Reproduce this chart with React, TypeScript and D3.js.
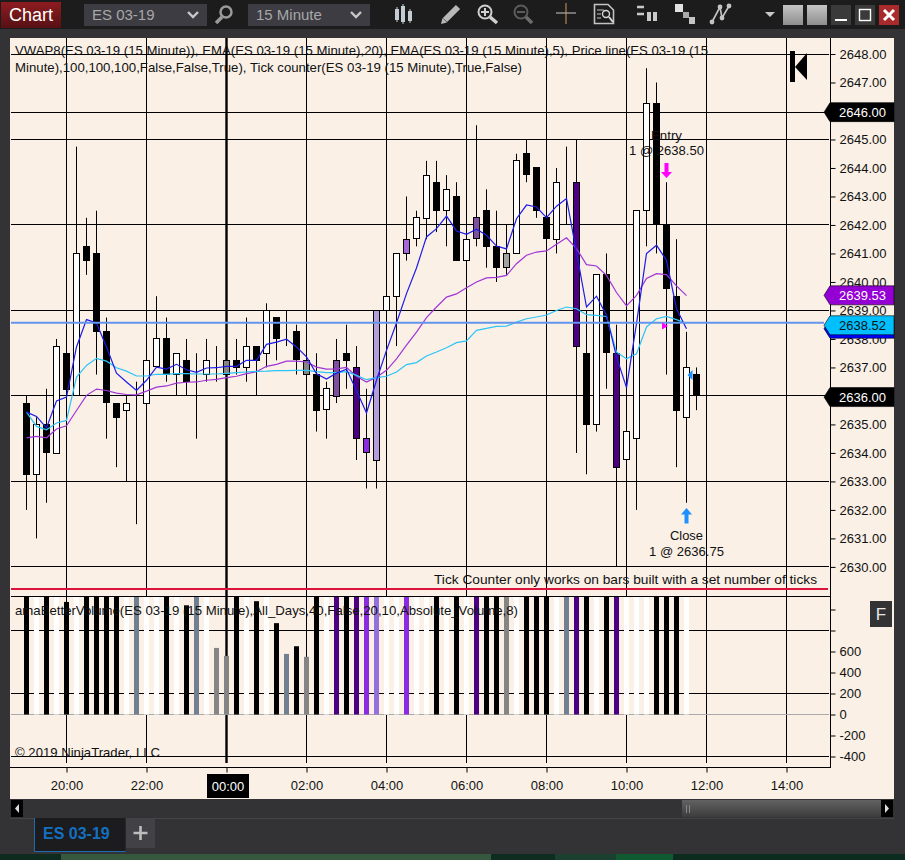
import { useEffect, useRef } from 'react';
import * as d3 from 'd3';

const opens = [2635.75, 2633.25, 2635, 2634, 2637.5, 2636, 2641.25, 2641, 2638.25, 2635.75, 2635.5, 2635.75, 2635.75, 2637, 2638, 2636.75, 2637.25, 2636.75, 2636.75, 2636.75, 2636.75, 2637.25, 2637, 2637.75, 2637.5, 2638.75, 2638.25, 2638.25, 2636.75, 2636.75, 2635.5, 2636, 2637.5, 2637, 2634.5, 2633.75, 2639, 2639.5, 2641, 2641.5, 2642.25, 2643.5, 2642.5, 2643, 2640.75, 2641.5, 2642.5, 2641.25, 2640.5, 2641, 2644.5, 2644, 2642.25, 2641.5, 2643.5, 2643.5, 2637.5, 2635, 2640.25, 2637.5, 2633.75, 2634.5, 2642.5, 2646.25, 2642, 2639.5, 2635.25, 2636.75];
const highs = [2636, 2635.25, 2636.25, 2638, 2637.5, 2644.75, 2642.25, 2642.5, 2638.75, 2635.75, 2636, 2636.5, 2637.25, 2639.5, 2638.75, 2637.5, 2638, 2637.5, 2638, 2637.75, 2637.25, 2638, 2638.75, 2637.75, 2639.25, 2638.75, 2639, 2638.5, 2637.25, 2637.5, 2636.5, 2638, 2638.5, 2637.75, 2636.25, 2639, 2639.5, 2641, 2643, 2642.5, 2644.25, 2644.25, 2643.75, 2643.5, 2641.5, 2645.5, 2643.25, 2642.5, 2642, 2644.5, 2645, 2644, 2642.25, 2644, 2644.75, 2645, 2639, 2640.25, 2641, 2638.5, 2634.75, 2642.5, 2647.5, 2647, 2643.5, 2641.5, 2638.25, 2637];
const lows = [2632, 2631, 2632.25, 2634, 2636.25, 2636, 2640.25, 2636.75, 2634.5, 2633.5, 2633, 2631.5, 2635.75, 2637, 2636.5, 2636, 2636, 2634.5, 2636.5, 2636.5, 2636.75, 2636.75, 2636.5, 2636, 2637, 2637.25, 2637.75, 2636.75, 2636.75, 2634.75, 2634.5, 2635.75, 2636.25, 2633.75, 2632.75, 2632.75, 2639, 2637.75, 2640.75, 2641.25, 2641.5, 2641.75, 2641.25, 2640.75, 2640.75, 2641.25, 2640.5, 2640, 2640.25, 2641, 2643.5, 2642.25, 2641.5, 2641, 2642, 2634, 2633.25, 2634.75, 2636.25, 2630, 2633.75, 2632, 2641.25, 2641, 2636.75, 2633.5, 2632.25, 2635.5];
const closes = [2633.25, 2635, 2634, 2637.75, 2636.25, 2641, 2640.75, 2638.25, 2635.75, 2635.25, 2635.75, 2635.75, 2637.25, 2638, 2636.75, 2637.5, 2636.5, 2636.75, 2637.25, 2636.75, 2637.25, 2637, 2637.75, 2637.25, 2639, 2638, 2638.25, 2637.25, 2637.25, 2635.5, 2636.25, 2637.25, 2637.25, 2634.5, 2634, 2639, 2639.5, 2641, 2641.5, 2642.25, 2643.75, 2642.5, 2643.25, 2640.75, 2641.5, 2642.25, 2641.25, 2640.5, 2641, 2644.25, 2643.75, 2642.5, 2641.5, 2643.5, 2643.5, 2637.75, 2635, 2640.25, 2637.5, 2633.5, 2634.75, 2642.5, 2646.25, 2642, 2639.75, 2635.5, 2637, 2636];

// candles that the volume indicator repaints
const shadedCandles: [number, string][] = [
  [20, 'grey'], [28, 'grey'], [31, 'plum'], [33, 'indigo'], [34, 'violet'], [35, 'lilac'],
  [38, 'orchid'], [45, 'plum'], [48, 'silver'], [55, 'indigo'], [59, 'indigo'],
];

const ema5 = [2635.43, 2635.28, 2634.88, 2635.82, 2635.96, 2637.72, 2638.68, 2638.56, 2637.72, 2636.8, 2636.49, 2636.19, 2636.55, 2637.01, 2636.94, 2637.11, 2636.92, 2636.83, 2636.98, 2636.99, 2637.04, 2637.04, 2637.25, 2637.25, 2637.81, 2637.89, 2637.99, 2637.72, 2637.37, 2636.78, 2636.59, 2636.8, 2636.94, 2636.19, 2635.4, 2636.55, 2637.6, 2638.56, 2639.59, 2640.49, 2641.58, 2641.87, 2642.31, 2641.79, 2641.67, 2641.85, 2641.64, 2641.26, 2641.16, 2642.22, 2642.7, 2642.63, 2642.26, 2642.66, 2642.93, 2641.05, 2639.12, 2639.5, 2638.83, 2637.37, 2636.29, 2638.54, 2641, 2641.29, 2640.76, 2639.06, 2638.36];
const ema20 = [2635.43, 2634.93, 2634.81, 2635.05, 2635.14, 2636.66, 2637.07, 2637.32, 2637.22, 2636.99, 2636.87, 2636.7, 2636.7, 2636.76, 2636.76, 2636.78, 2636.78, 2636.77, 2636.77, 2636.77, 2636.79, 2636.82, 2636.84, 2636.86, 2636.87, 2636.89, 2636.89, 2636.9, 2636.9, 2636.85, 2636.82, 2636.82, 2636.85, 2636.72, 2636.57, 2636.64, 2636.69, 2636.84, 2637.1, 2637.17, 2637.4, 2637.54, 2637.69, 2637.87, 2637.93, 2638.3, 2638.37, 2638.44, 2638.45, 2638.59, 2638.71, 2638.77, 2638.84, 2639, 2639.12, 2639.06, 2638.85, 2638.83, 2638.79, 2637.54, 2637.3, 2637.48, 2638.42, 2638.71, 2638.79, 2638.68, 2638.54];
const vwap = [2634.53, 2634.58, 2634.53, 2634.84, 2634.95, 2635.49, 2636.02, 2636.24, 2636.19, 2636.1, 2636.05, 2636.04, 2636.17, 2636.31, 2636.35, 2636.45, 2636.48, 2636.49, 2636.55, 2636.58, 2636.64, 2636.69, 2636.78, 2636.85, 2637.04, 2637.11, 2637.22, 2637.22, 2637.19, 2637.01, 2636.94, 2636.95, 2637, 2636.69, 2636.49, 2636.66, 2636.9, 2637.3, 2637.78, 2638.24, 2638.75, 2639.12, 2639.47, 2639.58, 2639.8, 2640, 2640.14, 2640.16, 2640.23, 2640.64, 2640.94, 2641.05, 2641.09, 2641.32, 2641.55, 2641.17, 2640.61, 2640.56, 2640.23, 2639.63, 2639.16, 2639.53, 2640.12, 2640.29, 2640.26, 2639.86, 2639.52];

// bars that run off the top of the panel are estimates
const volumes = [1450, 1500, 1600, 1300, 1072, 1250, 1400, 1700, 1350, 1500, 1200, 1300, 1500, 1200, 1600, 1300, 1040, 1250, 1200, 634, 558, 1500, 1300, 1079, 1200, 870, 577, 650, 549, 1300, 1200, 1500, 1400, 1600, 1800, 1350, 1300, 1500, 1700, 1250, 1200, 1400, 1300, 1600, 1450, 1300, 1500, 1350, 1200, 1900, 1700, 1400, 1300, 1500, 1250, 2200, 1800, 1500, 1400, 2100, 1500, 1800, 1900, 1700, 1600, 1500, 1300, 0];
const volumeKinds = ['black', 'white', 'black', 'white', 'black', 'white', 'black', 'black', 'black', 'black', 'white', 'slate', 'white', 'white', 'black', 'white', 'black', 'slate', 'white', 'grey', 'grey', 'black', 'white', 'black', 'white', 'black', 'slate', 'black', 'grey', 'black', 'white', 'indigo', 'black', 'indigo', 'violet', 'lilac', 'white', 'white', 'violet', 'white', 'white', 'black', 'white', 'black', 'white', 'indigo', 'black', 'black', 'grey', 'white', 'black', 'black', 'black', 'white', 'slate', 'indigo', 'black', 'white', 'black', 'indigo', 'white', 'white', 'white', 'black', 'black', 'black', 'white', 'white'];

const palette: Record<string, string> = {
  black: '#000000', white: '#ffffff', slate: '#708090', grey: '#858585', silver: '#a3a3a3',
  indigo: '#4b0082', violet: '#8a2be2', lilac: '#9370db', plum: '#7d4f9e', orchid: '#a566da',
};
const candleOverride: Record<string, string> = { lilac: '#b39ddb' };

const priceTicks = [2648, 2647, 2646, 2645, 2644, 2643, 2642, 2641, 2640, 2639, 2638, 2637, 2636, 2635, 2634, 2633, 2632, 2631, 2630];
const priceGrid = [2648, 2645, 2642, 2639, 2636, 2633, 2630];
const currentLevel = 2645.96;
const priceLine = 2638.57;
const volumeTicks = [1000, 800, 600, 400, 200, 0, -200, -400];
const volumeGrid = [800, 200, -400];
const timeTicks = [4, 12, 20, 28, 36, 44, 52, 60, 68, 76];
const timeLabels = ['20:00', '22:00', '00:00', '02:00', '04:00', '06:00', '08:00', '10:00', '12:00', '14:00'];

const FONT = '"Liberation Sans", Arial, sans-serif';
const INK = '#111';

export default function App() {
  const ref = useRef<SVGSVGElement>(null);

  useEffect(() => {
    if (!ref.current) return;
    const svg = d3.select(ref.current);
    svg.selectAll('*').remove();
    svg.attr('font-family', FONT);

    const x = d3.scaleLinear().domain([0, 67]).range([26.5, 696.5]);
    const y = d3.scaleLinear().domain([2630, 2648]).range([566.9, 54]);
    const v = d3.scaleLinear().domain([0, 800]).range([714.5, 630.5]);
    const crisp = (n: number) => Math.floor(n) + 0.5;

    const defs = svg.append('defs');
    defs.append('clipPath').attr('id', 'volClip').append('rect').attr('x', 10).attr('y', 597).attr('width', 820).attr('height', 118);
    const chartGrad = defs.append('linearGradient').attr('id', 'chartGrad').attr('x1', 0).attr('y1', 0).attr('x2', 0).attr('y2', 1);
    chartGrad.append('stop').attr('offset', '0%').attr('stop-color', '#8e1c20');
    chartGrad.append('stop').attr('offset', '100%').attr('stop-color', '#561014');
    const thumbGrad = defs.append('linearGradient').attr('id', 'thumbGrad').attr('x1', 0).attr('y1', 0).attr('x2', 0).attr('y2', 1);
    thumbGrad.append('stop').attr('offset', '0%').attr('stop-color', '#626262');
    thumbGrad.append('stop').attr('offset', '100%').attr('stop-color', '#3c3c3c');
    const greyGrad = defs.append('linearGradient').attr('id', 'greyGrad').attr('x1', 0).attr('y1', 0).attr('x2', 0).attr('y2', 1);
    greyGrad.append('stop').attr('offset', '0%').attr('stop-color', '#c4c4c4');
    greyGrad.append('stop').attr('offset', '100%').attr('stop-color', '#8e8e8e');

    // window chrome
    svg.append('rect').attr('width', 905).attr('height', 860).attr('fill', '#333335');
    svg.append('rect').attr('width', 905).attr('height', 29).attr('fill', '#1c1c1c');
    svg.append('rect').attr('x', 10).attr('y', 38).attr('width', 884).attr('height', 761).attr('fill', '#faf0e6');

    drawToolbar(svg);

    // grid sits under everything
    const grid = svg.append('g').attr('stroke', '#000').attr('stroke-width', 1).attr('fill', 'none');
    grid.selectAll('line.v').data(timeTicks).join('line').attr('class', 'v')
      .attr('x1', (d) => crisp(x(d))).attr('x2', (d) => crisp(x(d))).attr('y1', 38).attr('y2', 763)
      .attr('stroke-width', (d) => (d === 20 ? 2.4 : 1));
    grid.selectAll('line.h').data([...priceGrid, currentLevel]).join('line').attr('class', 'h')
      .attr('x1', 11).attr('x2', 829).attr('y1', (d) => crisp(y(d))).attr('y2', (d) => crisp(y(d)));
    grid.selectAll('line.vh').data(volumeGrid).join('line').attr('class', 'vh')
      .attr('x1', 11).attr('x2', 829).attr('y1', (d) => crisp(v(d))).attr('y2', (d) => crisp(v(d)));
    grid.append('line').attr('x1', 11).attr('x2', 830).attr('y1', 596.5).attr('y2', 596.5);
    svg.append('line').attr('x1', 11).attr('x2', 828).attr('y1', 589).attr('y2', 589).attr('stroke', '#dc143c').attr('stroke-width', 2);
    svg.append('line').attr('x1', 11).attr('x2', 829).attr('y1', crisp(v(0))).attr('y2', crisp(v(0))).attr('stroke', '#a9a9a9');

    // candles
    const index = d3.range(opens.length);
    const shade = new Map(shadedCandles);
    const candles = svg.append('g');
    candles.selectAll('line').data(index).join('line')
      .attr('x1', (i) => x(i)).attr('x2', (i) => x(i))
      .attr('y1', (i) => y(highs[i])).attr('y2', (i) => y(lows[i]))
      .attr('stroke', '#000').attr('stroke-width', 1);
    candles.selectAll('rect').data(index).join('rect')
      .attr('x', (i) => x(i) - 3)
      .attr('width', 6)
      .attr('y', (i) => crisp(y(Math.max(opens[i], closes[i]))))
      .attr('height', (i) => Math.round(Math.abs(y(opens[i]) - y(closes[i]))))
      .attr('fill', (i) => {
        const kind = shade.get(i);
        if (kind) return candleOverride[kind] ?? palette[kind];
        return closes[i] >= opens[i] ? '#ffffff' : '#000000';
      })
      .attr('stroke', '#000').attr('stroke-width', 1);

    // indicator lines
    const line = d3.line<number>().x((_, i) => x(i)).y((d) => y(d));
    const drawLine = (values: number[], color: string) =>
      svg.append('path').attr('d', line(values)).attr('fill', 'none').attr('stroke', color).attr('stroke-width', 1.2);
    drawLine(vwap, '#a035d6');
    drawLine(ema20, '#2cc4f8');
    drawLine(ema5, '#1c1ce8');
    svg.append('line').attr('x1', 11).attr('x2', 824).attr('y1', y(priceLine)).attr('y2', y(priceLine)).attr('stroke', '#6495ed').attr('stroke-width', 2);

    // volume panel
    svg.append('g').attr('clip-path', 'url(#volClip)').selectAll('rect').data(index).join('rect')
      .attr('x', (i) => x(i) - 2.5).attr('width', 5)
      .attr('y', (i) => v(volumes[i])).attr('height', (i) => v(0) - v(volumes[i]))
      .attr('fill', (i) => palette[volumeKinds[i]]);

    // axes
    const axisStyle = (g: d3.Selection<SVGGElement, unknown, null, undefined>) => {
      g.attr('font-family', FONT).attr('font-size', 13);
      g.select('.domain').remove();
      g.selectAll('.tick line').attr('stroke', '#000');
      g.selectAll('.tick text').attr('fill', INK);
    };
    svg.append('g').attr('transform', 'translate(830.5,0)')
      .call(d3.axisRight(y).tickValues(priceTicks).tickFormat(d3.format('.2f') as any).tickSize(5).tickPadding(4))
      .call(axisStyle as any);
    svg.append('g').attr('transform', 'translate(830.5,0)')
      .call(d3.axisRight(v).tickValues(volumeTicks).tickFormat((d) => (+d <= 600 ? String(d) : '')).tickSize(5).tickPadding(4))
      .call(axisStyle as any);
    svg.append('g').attr('transform', 'translate(0,767.5)')
      .call(d3.axisBottom(x).tickValues(timeTicks).tickFormat((_, i) => timeLabels[i]).tickSize(5).tickPadding(8))
      .call(axisStyle as any);
    svg.append('line').attr('x1', 830.5).attr('x2', 830.5).attr('y1', 38).attr('y2', 768).attr('stroke', '#000');
    svg.append('line').attr('x1', 10).attr('x2', 831).attr('y1', 767.5).attr('y2', 767.5).attr('stroke', '#000');

    // selected time label
    svg.append('rect').attr('x', 207).attr('y', 774).attr('width', 42).attr('height', 24).attr('fill', '#000');
    svg.append('text').attr('x', 228).attr('y', 791).attr('text-anchor', 'middle').attr('font-size', 13).attr('fill', '#fff').text(timeLabels[2]);

    // price flags
    const flags: [number, string, string, string][] = [
      [2638.36, '', '#0000ff', '#fff'],
      [2645.96, '2646.00', '#000', '#fff'],
      [2639.53, '2639.53', '#9400d3', '#fff'],
      [2638.48, '2638.52', '#00bfff', '#111'],
      [2635.96, '2636.00', '#000', '#fff'],
    ];
    flags.forEach(([val, label, fill, ink]) => {
      const c = y(val);
      svg.append('path')
        .attr('d', `M824,${c}L830,${c - 9.5}L894,${c - 9.5}L894,${c + 9.5}L830,${c + 9.5}Z`)
        .attr('fill', fill).attr('stroke', '#000').attr('stroke-width', 0.6);
      if (label) svg.append('text').attr('x', 839).attr('y', c + 4.8).attr('font-size', 13).attr('fill', ink).text(label);
    });

    // text on the chart, fitted to the widths seen in the screenshot
    const note = (tx: number, ty: number, s: string, width: number, anchor = 'start') =>
      svg.append('text').attr('x', tx).attr('y', ty).attr('text-anchor', anchor).attr('font-size', 13.5)
        .attr('textLength', width).attr('lengthAdjust', 'spacingAndGlyphs').attr('fill', INK).text(s);
    note(15, 55, 'VWAP8(ES 03-19 (15 Minute)), EMA(ES 03-19 (15 Minute),20), EMA(ES 03-19 (15 Minute),5), Price line(ES 03-19 (15', 693);
    note(15, 72, 'Minute),100,100,100,False,False,True), Tick counter(ES 03-19 (15 Minute),True,False)', 507);
    note(817, 584, 'Tick Counter only works on bars built with a set number of ticks', 383, 'end');
    note(15, 615, 'amaBetterVolume(ES 03-19 (15 Minute),All_Days,40,False,20,10,Absolute_Volume,8)', 503);
    note(15, 757, '© 2019 NinjaTrader, LLC', 145);

    // trade markers
    const entryX = x(64);
    const closeX = x(66);
    note(entryX, 140, 'Entry', 31, 'middle');
    note(entryX, 155, '1 @ 2638.50', 75, 'middle');
    note(closeX, 540, 'Close', 33, 'middle');
    note(closeX, 556, '1 @ 2636.75', 75, 'middle');
    svg.append('path').attr('fill', '#ff00ff')
      .attr('d', `M${entryX - 2},163h4v9h3.5l-5.5,6l-5.5,-6h3.5z`);
    svg.append('path').attr('fill', '#1e90ff')
      .attr('d', `M${closeX},508l5.5,6.5h-3.5v9h-4v-9h-3.5z`);
    svg.append('path').attr('fill', '#ff00ff').attr('d', `M${entryX - 4.5},322.5l6,3.5l-6,3.5z`);
    svg.append('path').attr('fill', '#1e90ff').attr('d', `M${closeX + 6},370v10l-5,-5z`);

    // first bar marker
    svg.append('rect').attr('x', 790).attr('y', 51).attr('width', 5).attr('height', 31).attr('fill', '#000');
    svg.append('path').attr('d', 'M795,67L807,53V80Z').attr('fill', '#000');

    // F button
    svg.append('rect').attr('x', 870).attr('y', 601).attr('width', 22).attr('height', 26).attr('fill', '#333335');
    svg.append('text').attr('x', 881).attr('y', 620).attr('text-anchor', 'middle').attr('font-size', 17).attr('fill', '#e6e6e6').text('F');

    drawFooter(svg);
  }, []);

  return <svg ref={ref} width={905} height={860} style={{ position: 'absolute', left: 0, top: 0 }} />;
}

function drawToolbar(svg: d3.Selection<SVGSVGElement, unknown, null, undefined>) {
  svg.append('rect').attr('x', 1).attr('y', 2).attr('width', 60).attr('height', 26).attr('fill', 'url(#chartGrad)');
  svg.append('text').attr('x', 31).attr('y', 21).attr('text-anchor', 'middle').attr('font-size', 18).attr('fill', '#fff').text('Chart');

  const combo = (bx: number, w: number, label: string) => {
    svg.append('rect').attr('x', bx).attr('y', 4).attr('width', w).attr('height', 22).attr('fill', '#3c3c42');
    svg.append('text').attr('x', bx + 8).attr('y', 20).attr('font-size', 15).attr('fill', '#a8a8a8').text(label);
    svg.append('path').attr('d', `M${bx + w - 19},12l5,5l5,-5`).attr('fill', 'none').attr('stroke', '#c8c8c8').attr('stroke-width', 2.4);
  };
  combo(84, 123, 'ES 03-19');
  combo(248, 122, '15 Minute');

  const stroke = (d: string, color: string, w: number) =>
    svg.append('path').attr('d', d).attr('fill', 'none').attr('stroke', color).attr('stroke-width', w);

  // search
  svg.append('circle').attr('cx', 226).attr('cy', 12).attr('r', 5.5).attr('fill', 'none').attr('stroke', '#9a9a9a').attr('stroke-width', 2.5);
  stroke('M222,17L216,23', '#9a9a9a', 3.5);
  // candles
  [[397, 7, 15], [403, 4, 20], [410, 9, 14]].forEach(([cx, top, h]) => {
    svg.append('rect').attr('x', cx - 2).attr('y', top + 2).attr('width', 4).attr('height', h - 4).attr('fill', '#c4cdd4');
    stroke(`M${cx},${top}V${top + h}`, '#c4cdd4', 1);
  });
  // pencil
  stroke('M445,20L458,7', '#b8b8b8', 6);
  svg.append('path').attr('d', 'M441,24L442.5,18L447,22.5Z').attr('fill', '#b8b8b8');
  // zoom in
  svg.append('circle').attr('cx', 485).attr('cy', 12).attr('r', 6.5).attr('fill', 'none').attr('stroke', '#cfcfcf').attr('stroke-width', 2);
  stroke('M481,12H489M485,8V16', '#cfcfcf', 2);
  stroke('M490,17L497,23', '#cfcfcf', 3.5);
  // zoom out
  svg.append('circle').attr('cx', 521).attr('cy', 12).attr('r', 6.5).attr('fill', 'none').attr('stroke', '#5c5c5c').attr('stroke-width', 2);
  stroke('M517,12H525', '#5c5c5c', 2);
  stroke('M526,17L532,23', '#6c6c6c', 3.5);
  // cross
  stroke('M556,13H576', '#c9c9c9', 1);
  stroke('M566,3V24', '#d09a5c', 1);
  // report
  svg.append('path').attr('d', 'M594.5,4.5H608L613.5,10V23.5H594.5Z').attr('fill', 'none').attr('stroke', '#c2c2c2').attr('stroke-width', 1.6);
  stroke('M597,10H604M597,14H601M597,18H601', '#c2c2c2', 1);
  svg.append('circle').attr('cx', 606).attr('cy', 14).attr('r', 3.5).attr('fill', 'none').attr('stroke', '#d8d8d8').attr('stroke-width', 1.4);
  stroke('M609,17L613,22', '#d8d8d8', 2);
  // trade panel
  stroke('M637,7H644M637,14H644', '#c9c9c9', 2.4);
  svg.append('rect').attr('x', 647).attr('y', 12).attr('width', 4).attr('height', 9).attr('fill', '#c9c9c9');
  svg.append('rect').attr('x', 653).attr('y', 12).attr('width', 4).attr('height', 9).attr('fill', '#c9c9c9');
  // layered squares
  svg.append('rect').attr('x', 675).attr('y', 4).attr('width', 8).attr('height', 8).attr('fill', '#e2e2e2');
  svg.append('rect').attr('x', 683).attr('y', 12).attr('width', 6).attr('height', 6).attr('fill', '#a8a8a8');
  svg.append('rect').attr('x', 689).attr('y', 17).attr('width', 6).attr('height', 7).attr('fill', '#c4c4c4');
  // drawing tools
  stroke('M712,22L720,7L722,18L729,6', '#c4c4c4', 1.6);
  [[712, 22], [720, 7], [722, 18], [729, 6]].forEach(([cx, cy]) =>
    svg.append('circle').attr('cx', cx).attr('cy', cy).attr('r', 2.4).attr('fill', '#c4c4c4'));
  svg.append('path').attr('d', 'M765,12H775L770,17Z').attr('fill', '#c8c8c8');

  // window buttons
  svg.append('rect').attr('x', 783).attr('y', 5).attr('width', 20).attr('height', 20).attr('fill', 'url(#greyGrad)');
  svg.append('rect').attr('x', 807).attr('y', 5).attr('width', 20).attr('height', 20).attr('fill', 'url(#greyGrad)');
  svg.append('rect').attr('x', 831).attr('y', 5).attr('width', 20).attr('height', 20).attr('fill', '#3a3a3a');
  stroke('M835,20H847', '#fff', 2);
  svg.append('rect').attr('x', 855).attr('y', 5).attr('width', 20).attr('height', 20).attr('fill', '#3a3a3a');
  svg.append('rect').attr('x', 859.5).attr('y', 9.5).attr('width', 11).attr('height', 11).attr('fill', 'none').attr('stroke', '#fff').attr('stroke-width', 1.4);
  svg.append('rect').attr('x', 879).attr('y', 5).attr('width', 20).attr('height', 20).attr('fill', '#a82a2c');
  stroke('M884,10L894,20M894,10L884,20', '#fff', 3);
}

function drawFooter(svg: d3.Selection<SVGSVGElement, unknown, null, undefined>) {
  // scroll bar
  svg.append('rect').attr('x', 10).attr('y', 799).attr('width', 884).attr('height', 19).attr('fill', '#333335');
  svg.append('line').attr('x1', 10).attr('x2', 894).attr('y1', 818.5).attr('y2', 818.5).attr('stroke', '#444');
  svg.append('rect').attr('x', 11).attr('y', 800).attr('width', 12).attr('height', 17).attr('fill', '#000');
  svg.append('path').attr('d', 'M19,804V813L15,808.5Z').attr('fill', '#ddd');
  svg.append('rect').attr('x', 682).attr('y', 800).attr('width', 199).attr('height', 17).attr('fill', 'url(#thumbGrad)');
  svg.append('path').attr('d', 'M686.5,805V813M689.5,805V813').attr('stroke', '#888').attr('fill', 'none');
  svg.append('rect').attr('x', 881).attr('y', 800).attr('width', 12).attr('height', 17).attr('fill', '#000');
  svg.append('path').attr('d', 'M885,804V813L889,808.5Z').attr('fill', '#ddd');

  // tabs
  svg.append('rect').attr('x', 34.5).attr('y', 818).attr('width', 91).attr('height', 33.5).attr('fill', '#1c1c1e');
  svg.append('path').attr('d', 'M34.5,818V851.5H125.5').attr('fill', 'none').attr('stroke', '#1c6cb4');
  svg.append('text').attr('x', 43).attr('y', 839).attr('font-size', 16).attr('font-weight', 700).attr('fill', '#1470c0').text('ES 03-19');
  svg.append('rect').attr('x', 126).attr('y', 818).attr('width', 29).attr('height', 30).attr('fill', '#414146');
  svg.append('path').attr('d', 'M133.5,833H147.5M140.5,826V840').attr('stroke', '#bdbdbd').attr('stroke-width', 2.6);

  // task bar strip
  const strip: [number, number, string][] = [
    [0, 61, '#0f2a1e'], [61, 430, '#35583f'], [491, 64, '#0f2c20'], [555, 61, '#1c4030'], [616, 57, '#0f5a30'], [673, 232, '#0d2c20'],
  ];
  strip.forEach(([sx, w, c]) => svg.append('rect').attr('x', sx).attr('y', 854).attr('width', w).attr('height', 6).attr('fill', c));
}
